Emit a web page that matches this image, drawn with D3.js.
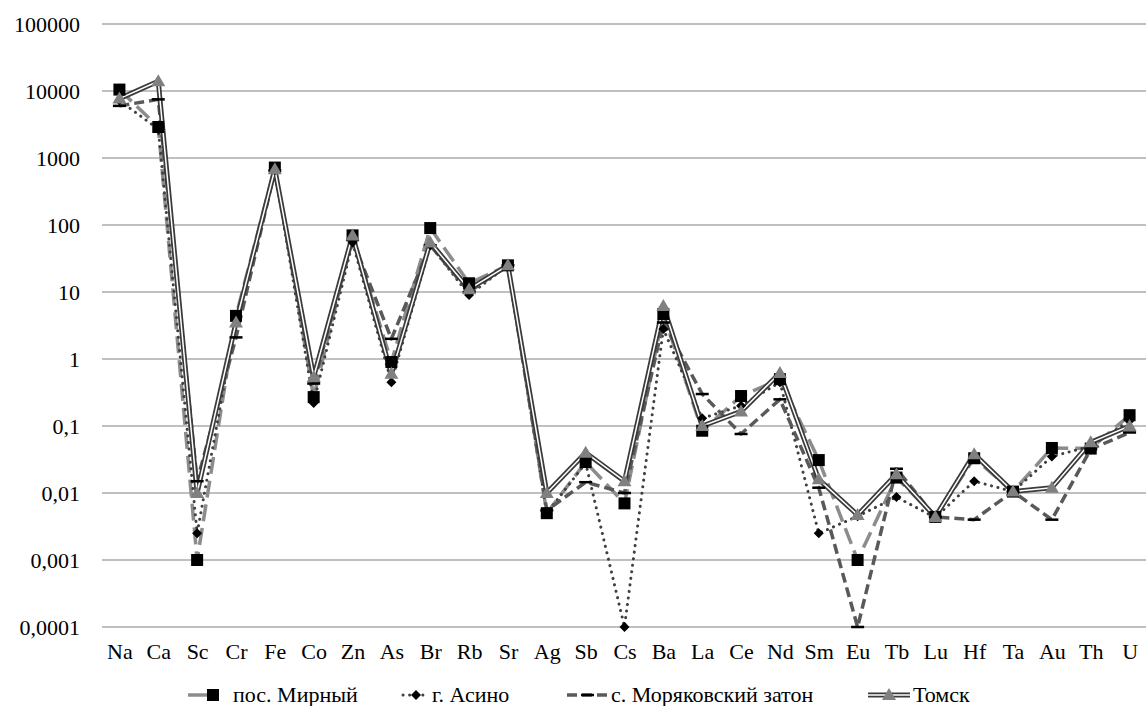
<!DOCTYPE html>
<html>
<head>
<meta charset="utf-8">
<script src="https://cdn.jsdelivr.net/npm/d3@7"></script>
<style>
	body { margin: 0; background: #fff; }
</style>
</head>
<body>
<div id="chart"></div>
<script>
// element order along the x axis
const elements = ["Na", "Ca", "Sc", "Cr", "Fe", "Co", "Zn", "As", "Br", "Rb", "Sr", "Ag", "Sb", "Cs",
	"Ba", "La", "Ce", "Nd", "Sm", "Eu", "Tb", "Lu", "Hf", "Ta", "Au", "Th", "U"];

const mirny = [10500, 2900, 0.001, 4.4, 720, 0.27, 70, 0.9, 90, 13.5, 25, 0.005, 0.029, 0.007,
	4.7, 0.085, 0.28, 0.5, 0.031, 0.001, 0.017, 0.0044, 0.033, 0.0105, 0.047, 0.046, 0.145];
const asino = [7200, 2700, 0.0025, 3.8, 650, 0.22, 55, 0.45, 50, 9, 25, 0.005, 0.028, 0.0001,
	2.8, 0.13, 0.2, 0.45, 0.0025, 0.0045, 0.0087, 0.0043, 0.015, 0.0105, 0.035, 0.05, 0.12];
const moryak = [6000, 7500, 0.015, 2.1, 650, 0.43, 60, 2.0, 50, 10, 25, 0.0055, 0.0145, 0.01,
	3.5, 0.3, 0.076, 0.25, 0.012, 0.0001, 0.023, 0.0044, 0.004, 0.0105, 0.004, 0.045, 0.08];
const tomsk = [7700, 14000, 0.01, 3.5, 680, 0.54, 70, 0.6, 55, 11, 25, 0.01, 0.04, 0.015,
	6.2, 0.1, 0.165, 0.62, 0.016, 0.0047, 0.019, 0.0044, 0.038, 0.0105, 0.012, 0.057, 0.1];

const yTicks = [100000, 10000, 1000, 100, 10, 1, 0.1, 0.01, 0.001, 0.0001];
const yTickLabels = ["100000", "10000", "1000", "100", "10", "1", "0,1", "0,01", "0,001", "0,0001"];

const seriesNames = ["пос. Мирный", "г. Асино", "с. Моряковский затон", "Томск"];

const chartWidth = 1146, chartHeight = 706;
const plotLeft = 100, plotRight = 1149, plotTop = 24, plotBottom = 627;
const fontFamily = "'Liberation Serif', 'Times New Roman', Times, 'DejaVu Serif', serif";

const svg = d3.select("#chart").append("svg")
	.attr("width", chartWidth)
	.attr("height", chartHeight)
	.attr("font-family", fontFamily);

const x = d3.scalePoint().domain(elements).range([plotLeft, plotRight]).padding(0.5);
const y = d3.scaleLog().domain([0.0001, 100000]).range([plotBottom, plotTop]);

// gridlines
svg.append("g").selectAll("line")
	.data(yTicks)
	.enter().append("line")
	.attr("x1", plotLeft + 2)
	.attr("x2", chartWidth)
	.attr("y1", d => y(d))
	.attr("y2", d => y(d))
	.style("stroke", "#ababab")
	.style("stroke-width", "1.5px");

// y axis labels
const yAxis = d3.axisLeft(y)
	.tickValues(yTicks)
	.tickFormat((d, i) => yTickLabels[i])
	.tickSize(0)
	.tickPadding(0);
const gy = svg.append("g")
	.attr("transform", "translate(80,0)")
	.call(yAxis)
	.attr("font-family", fontFamily)
	.attr("font-size", 22);
gy.select(".domain").remove();
gy.selectAll("text").attr("fill", "#000");

// x axis labels
const xAxis = d3.axisBottom(x).tickSize(0).tickPadding(0);
const gx = svg.append("g")
	.attr("transform", "translate(0,643)")
	.call(xAxis)
	.attr("font-family", fontFamily)
	.attr("font-size", 22);
gx.select(".domain").remove();
gx.selectAll("text").attr("fill", "#000");

const styles = [
	{ stroke: "#8c8c8c", width: 3.5, dash: "17,7", cap: "butt" },
	{ stroke: "#404040", width: 3, dash: "0.1,6.5", cap: "round" },
	{ stroke: "#595959", width: 3.5, dash: "10,5", cap: "butt" },
	{ stroke: "#3a3a3a", width: 5, dash: null, cap: "butt" }
];

const allSeries = [mirny, asino, moryak, tomsk];

const line = d3.line()
	.x((d, i) => x(elements[i]))
	.y(d => y(d));

allSeries.forEach((data, k) => {
	const s = styles[k];
	svg.append("path")
		.attr("d", line(data))
		.style("fill", "none")
		.style("stroke", s.stroke)
		.style("stroke-width", s.width + "px")
		.style("stroke-linecap", s.cap)
		.style("stroke-linejoin", "round")
		.style("stroke-dasharray", s.dash);
	if(k === 3) {
		// double line: white core
		svg.append("path")
			.attr("d", line(data))
			.style("fill", "none")
			.style("stroke", "#fff")
			.style("stroke-width", "1.5px")
			.style("stroke-linejoin", "round");
	}
});

function drawMarker(g, k, cx, cy) {
	if(k === 0) {
		g.append("rect")
			.attr("x", cx - 6).attr("y", cy - 6)
			.attr("width", 12).attr("height", 12)
			.style("fill", "#000");
	} else if(k === 1) {
		g.append("path")
			.attr("d", `M${cx},${cy - 5}L${cx + 5},${cy}L${cx},${cy + 5}L${cx - 5},${cy}Z`)
			.style("fill", "#000");
	} else if(k === 2) {
		g.append("rect")
			.attr("x", cx - 6.5).attr("y", cy - 1.25)
			.attr("width", 13).attr("height", 2.5)
			.style("fill", "#000");
	} else {
		g.append("path")
			.attr("d", `M${cx},${cy - 7}L${cx + 7},${cy + 5}L${cx - 7},${cy + 5}Z`)
			.style("fill", "#808080");
	}
}

const markers = svg.append("g");
allSeries.forEach((data, k) => {
	data.forEach((v, i) => drawMarker(markers, k, x(elements[i]), y(v)));
});

// legend: item positions as in the original layout
const legY = 695;
const legStart = [188, 403, 567, 868];
const legSample = [24, 26, 41, 42];
const legend = svg.append("g");
seriesNames.forEach((name, k) => {
	const s = styles[k];
	const lx = legStart[k], sw = legSample[k];
	const item = legend.append("g");
	item.append("line")
		.attr("x1", lx).attr("x2", lx + sw)
		.attr("y1", legY).attr("y2", legY)
		.style("stroke", s.stroke)
		.style("stroke-width", s.width + "px")
		.style("stroke-linecap", s.cap)
		.style("stroke-dasharray", k === 0 ? null : s.dash);
	if(k === 3) {
		item.append("line")
			.attr("x1", lx).attr("x2", lx + sw)
			.attr("y1", legY).attr("y2", legY)
			.style("stroke", "#fff")
			.style("stroke-width", "1.5px");
	}
	drawMarker(item, k, k === 0 ? lx + 25 : lx + sw / 2, legY);
	item.append("text")
		.attr("x", lx + sw + (k === 0 ? 21 : 3))
		.attr("y", legY + 7)
		.attr("font-size", 22)
		.attr("fill", "#000")
		.text(name);
});
</script>
</body>
</html>
